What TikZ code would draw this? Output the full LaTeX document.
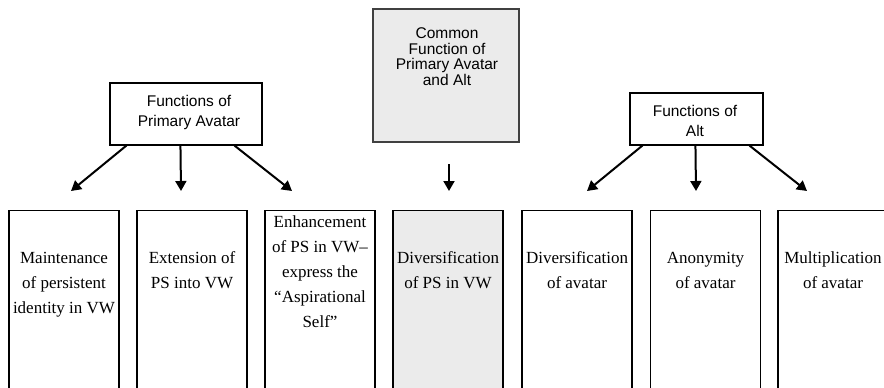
\documentclass[tikz,border=0pt]{standalone}
\usepackage{fontspec}
\setmainfont{Liberation Serif}
\newfontfamily\hsans{Liberation Sans}
\usetikzlibrary{arrows.meta}
\definecolor{boxgray}{HTML}{EBEBEB}
\begin{document}
\begin{tikzpicture}[x=1pt,y=-1pt,
  topbox/.style={draw, line width=1.1pt, inner sep=0pt},
  toptext/.style={align=center, inner sep=0pt, font=\hsans\fontsize{15.5}{20}\selectfont},
  lowbox/.style={draw, line width=1.1pt, inner sep=0pt, anchor=north, minimum width=110pt, minimum height=200pt},
  lowtext/.style={align=center, inner sep=0pt, font=\fontsize{17}{25}\selectfont},
  arr/.style={line width=2pt, -{Triangle[width=11pt,length=10pt]}}]
\useasboundingbox (0,0) rectangle (884,388);
\clip (0,0) rectangle (884,388);

% top boxes
\node[topbox, minimum width=152pt, minimum height=62pt] (prim) at (186,114) {};
\node[toptext] (tprim) at (189,112) {Functions of\\Primary Avatar};
\node[topbox, fill=boxgray, draw=black!75, minimum width=146pt, minimum height=133pt] (comm) at (446,75.5) {};
\node[toptext, font=\hsans\fontsize{15.5}{15.6}\selectfont] (tcomm) at (447,56.5) {Common\\Function of\\Primary Avatar\\and Alt};
\node[topbox, minimum width=133pt, minimum height=52pt] (alt) at (696.5,119) {};
\node[toptext] (talt) at (695,120.7) {Functions of\\Alt};

% bottom boxes
\node[lowbox] (b1) at (64,210) {};
\node[lowbox] (b2) at (192,210) {};
\node[lowbox] (b3) at (320,210) {};
\node[lowbox, fill=boxgray] (b4) at (448,210) {};
\node[lowbox] (b5) at (577,210) {};
\node[lowbox] (b6) at (705.5,210) {};
\node[lowbox] (b7) at (833,210) {};

\node[lowtext] (t1) at (64,284.5) {Maintenance\\of persistent\\identity in VW};
\node[lowtext] (t2) at (192,270) {Extension of\\PS into VW};
\node[lowtext] (t3) at (320,271.5) {Enhancement\\of PS in VW–\\express the\\“Aspirational\\Self”};
\node[lowtext] (t4) at (448,270) {Diversification\\of PS in VW};
\node[lowtext] (t5) at (577,270) {Diversification\\of avatar};
\node[lowtext] (t6) at (705.5,270) {Anonymity\\of avatar};
\node[lowtext] (t7) at (833,270) {Multiplication\\of avatar};

% arrow ends
\coordinate (e1) at (71,191);
\coordinate (e2) at (181,191);
\coordinate (e3) at (292,191);
\coordinate (s4) at (449,164);
\coordinate (e4) at (449,191);
\coordinate (e5) at (587,191);
\coordinate (e6) at (696,191);
\coordinate (e7) at (807,191);

\draw[arr] (prim.south west) ++(17,0) coordinate (p1) -- (e1);
\draw[arr] (prim.south west) ++(71,0) coordinate (p2) -- (e2);
\draw[arr] (prim.south west) ++(125,0) coordinate (p3) -- (e3);
\draw[arr] (s4) -- (e4);
\draw[arr] (alt.south west) ++(13,0) coordinate (a1) -- (e5);
\draw[arr] (alt.south west) ++(66,0) coordinate (a2) -- (e6);
\draw[arr] (alt.south west) ++(120,0) coordinate (a3) -- (e7);
\end{tikzpicture}
\end{document}
